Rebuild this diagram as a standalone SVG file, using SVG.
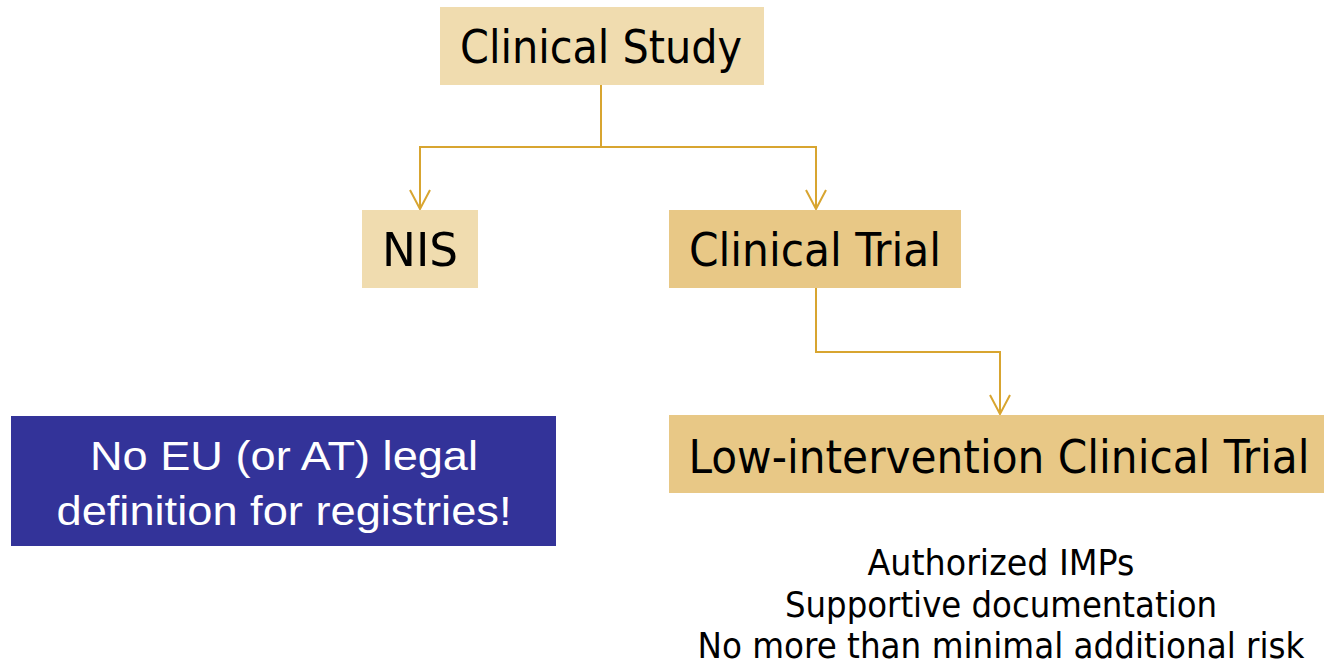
<svg xmlns="http://www.w3.org/2000/svg" width="1324" height="668" viewBox="0 0 1324 668">
  <style>
    .light { fill: #F0DCAF; }
    .dark { fill: #E8C886; }
    .lbl { font-family: "DejaVu Sans Condensed", "DejaVu Sans", sans-serif; font-size: 47px; fill: #000; text-anchor: middle; }
    .note { font-family: "DejaVu Sans Condensed", "DejaVu Sans", sans-serif; font-size: 36px; fill: #000; text-anchor: middle; }
    .warn { font-family: "Liberation Sans", Arial, sans-serif; font-size: 40px; fill: #fff; text-anchor: middle; }
    .link { fill: none; stroke: #D8A530; stroke-width: 2; }
  </style>
  <defs>
    <marker id="chev" markerUnits="userSpaceOnUse" markerWidth="24" markerHeight="22" refX="11" refY="20" orient="0" viewBox="0 0 24 22">
      <path d="M1 1 L11 20 L21 1" fill="none" stroke="#D8A530" stroke-width="2"/>
    </marker>
  </defs>
  <rect width="1324" height="668" fill="#fff"/>

  <!-- connectors -->
  <g id="connectors">
    <path class="link" d="M601 85 V147"/>
    <path class="link" d="M601 147 H420 V209" marker-end="url(#chev)"/>
    <path class="link" d="M601 147 H816 V209" marker-end="url(#chev)"/>
    <path class="link" d="M816 288 V352 H1000 V414" marker-end="url(#chev)"/>
  </g>

  <g id="clinical-study">
    <rect class="light" x="440" y="7" width="324" height="78"/>
    <text class="lbl" x="601" y="63" textLength="282" lengthAdjust="spacingAndGlyphs">Clinical Study</text>
  </g>

  <g id="nis">
    <rect class="light" x="362" y="210" width="116" height="78"/>
    <text class="lbl" x="420" y="266" textLength="76" lengthAdjust="spacingAndGlyphs">NIS</text>
  </g>

  <g id="clinical-trial">
    <rect class="dark" x="669" y="210" width="292" height="78"/>
    <text class="lbl" x="815" y="266" textLength="252" lengthAdjust="spacingAndGlyphs">Clinical Trial</text>
  </g>

  <g id="low-intervention">
    <rect class="dark" x="669" y="415" width="655" height="78"/>
    <text class="lbl" x="999" y="473" textLength="621" lengthAdjust="spacingAndGlyphs">Low-intervention Clinical Trial</text>
  </g>

  <g id="criteria">
    <text class="note" x="1001" y="575" textLength="267" lengthAdjust="spacingAndGlyphs">Authorized IMPs</text>
    <text class="note" x="1001" y="617" textLength="432" lengthAdjust="spacingAndGlyphs">Supportive documentation</text>
    <text class="note" x="1001" y="658" textLength="607" lengthAdjust="spacingAndGlyphs">No more than minimal additional risk</text>
  </g>

  <g id="registry-note">
    <rect x="11" y="416" width="545" height="130" fill="#333399"/>
    <text class="warn" x="284" y="470" textLength="388" lengthAdjust="spacingAndGlyphs">No EU (or AT) legal</text>
    <text class="warn" x="284" y="525" textLength="455" lengthAdjust="spacingAndGlyphs">definition for registries!</text>
  </g>
</svg>
